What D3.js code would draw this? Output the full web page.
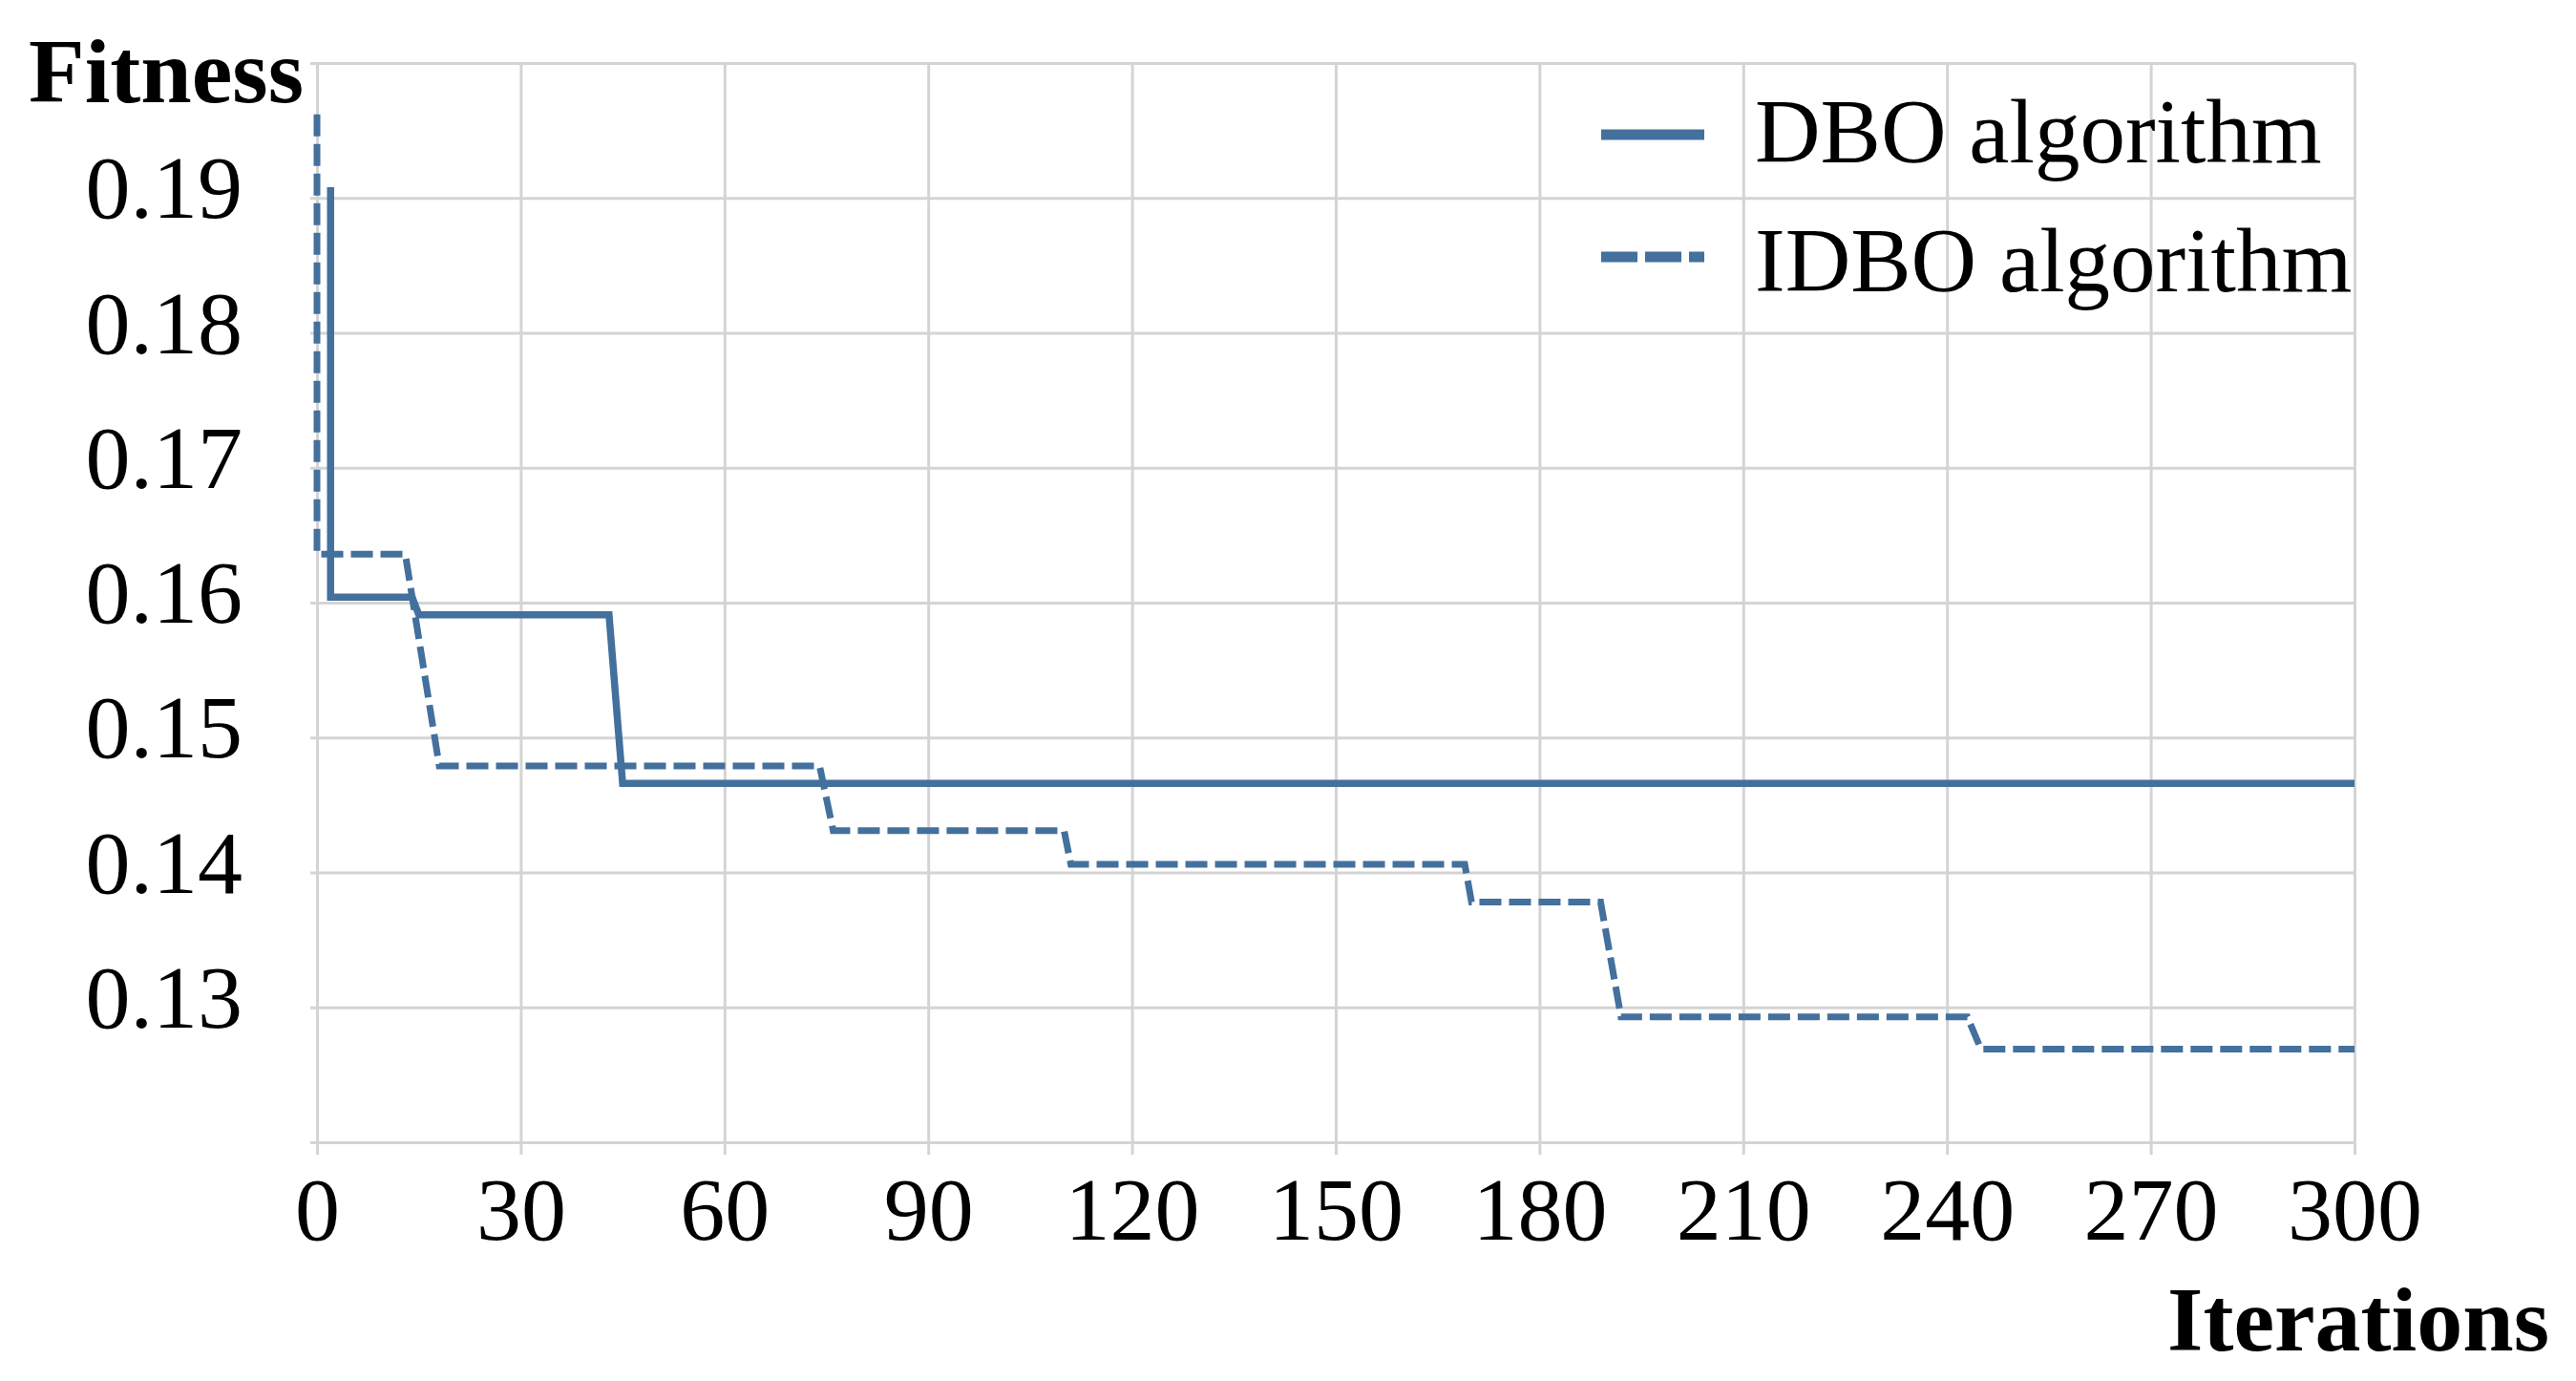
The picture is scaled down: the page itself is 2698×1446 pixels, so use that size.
<!DOCTYPE html>
<html lang="en">
<head>
<meta charset="utf-8">
<title>Fitness convergence</title>
<script src="https://d3js.org/d3.v7.min.js"></script>
<style>
  body { margin: 0; background: #fff; }
  svg { display: block; }
  .grid line { stroke: #d4d4d4; stroke-width: 3; }
  .grid path { display: none; }
  .grid text { font-family: "Liberation Serif", "Times New Roman", serif; font-size: 94px; fill: #000; }
  .title { font-family: "Liberation Serif", "Times New Roman", serif; font-size: 96px; font-weight: bold; fill: #000; }
  .legend text { font-family: "Liberation Serif", "Times New Roman", serif; font-size: 95px; fill: #000; }
</style>
</head>
<body>
<svg id="chart" width="2698" height="1446"></svg>
<script>
// data (iteration, best fitness) for each step curve
var dboIter = [2, 2, 14, 15, 43, 45, 300];
var dboFit  = [0.1908, 0.1604, 0.1604, 0.1591, 0.1591, 0.1466, 0.1466];

var idboIter = [0, 0, 13, 18, 74, 76, 110, 111, 169, 170, 189, 192, 243, 245, 300];
var idboFit  = [0.1962, 0.1636, 0.1636, 0.1479, 0.1479, 0.1431, 0.1431, 0.1406, 0.1406, 0.1378, 0.1378, 0.1293, 0.1293, 0.1269, 0.1269];

var xTicks = [0, 30, 60, 90, 120, 150, 180, 210, 240, 270, 300];
var yTicks = [0.12, 0.13, 0.14, 0.15, 0.16, 0.17, 0.18, 0.19, 0.20];
var yTickLabels = ["", "0.13", "0.14", "0.15", "0.16", "0.17", "0.18", "0.19", ""];

var seriesNames = ["DBO algorithm", "IDBO algorithm"];

var svg = d3.select("#chart");
var plotLeft = 332, plotRight = 2466, plotTop = 66, plotBottom = 1196;
var lineColor = "#43709d";

var x = d3.scaleLinear().domain([0, 300]).range([plotLeft, plotRight]);
var y = d3.scaleLinear().domain([0.12, 0.20]).range([plotBottom, plotTop]);

// horizontal grid + y labels (ticks poke out a little on the left)
svg.append("g")
  .attr("class", "grid")
  .attr("transform", "translate(" + (plotLeft - 7) + ",0)")
  .call(d3.axisLeft(y)
    .tickValues(yTicks)
    .tickSize(-(plotRight - plotLeft + 7))
    .tickPadding(71)
    .tickFormat(function (d, i) { return yTickLabels[i]; }))
  .selectAll("text")
  .attr("dy", "0.22em");

// vertical grid + x labels
svg.append("g")
  .attr("class", "grid")
  .attr("transform", "translate(0," + (plotBottom + 13) + ")")
  .call(d3.axisBottom(x)
    .tickValues(xTicks)
    .tickSize(-(plotBottom - plotTop + 13))
    .tickPadding(22)
    .tickFormat(d3.format("d")));

// curves
var line = d3.line()
  .x(function (d) { return x(d[0]); })
  .y(function (d) { return y(d[1]); });

svg.append("path")
  .datum(d3.zip(dboIter, dboFit))
  .attr("d", line)
  .attr("fill", "none")
  .attr("stroke", lineColor)
  .attr("stroke-width", 7.5);

svg.append("path")
  .datum(d3.zip(idboIter, idboFit))
  .attr("d", line)
  .attr("fill", "none")
  .attr("stroke", lineColor)
  .attr("stroke-width", 7)
  .attr("stroke-dasharray", "23,8");

// axis titles
svg.append("text").attr("class", "title")
  .attr("x", 30).attr("y", 107)
  .text("Fitness");

svg.append("text").attr("class", "title")
  .attr("x", 2670).attr("y", 1414)
  .attr("text-anchor", "end")
  .text("Iterations");

// legend
var legend = svg.append("g").attr("class", "legend");
var legendRows = [
  { name: seriesNames[0], dash: null, ly: 141, ty: 170 },
  { name: seriesNames[1], dash: "38,8", ly: 269, ty: 305 }
];
legendRows.forEach(function (r) {
  legend.append("line")
    .attr("x1", 1677).attr("x2", 1785)
    .attr("y1", r.ly).attr("y2", r.ly)
    .attr("stroke", lineColor)
    .attr("stroke-width", 11)
    .attr("stroke-dasharray", r.dash);
  legend.append("text")
    .attr("x", 1838).attr("y", r.ty)
    .text(r.name);
});
</script>
</body>
</html>
